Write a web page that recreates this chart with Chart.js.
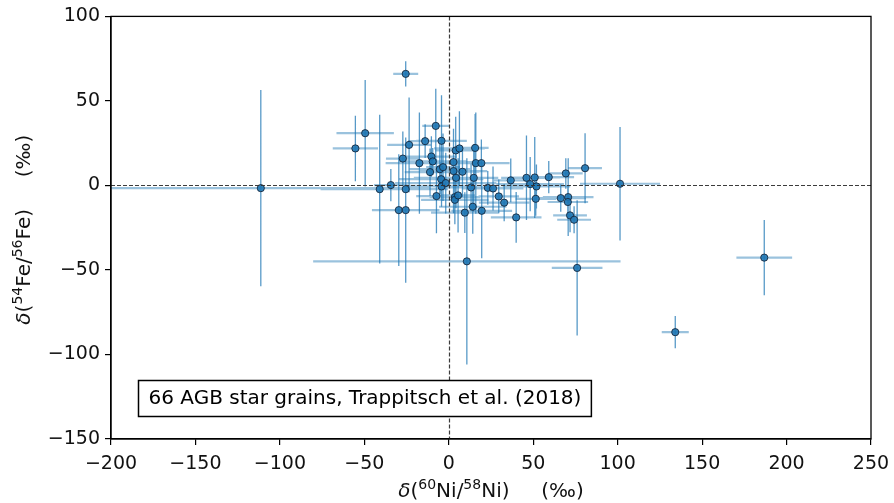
<!DOCTYPE html>
<html>
<head>
<meta charset="utf-8">
<script src="https://cdn.jsdelivr.net/npm/chart.js@4.4.1/dist/chart.umd.min.js"></script>
<style>
  html, body { margin: 0; padding: 0; background: #fff; }
  #plot { display: block; }
</style>
</head>
<body>
<canvas id="plot" width="894" height="503"></canvas>
<script>
// delta 60Ni/58Ni and delta 54Fe/56Fe (permil) for the grains
const nickel = [
  -25.5, -111.3, -49.5, -55.3, -40.9, -34.3, -27.2, -25.5, -29.6, -25.5,
  -23.5, -17.4, -14.0, -7.7, -10.3, -9.5, -11.1, -4.3, -5.3, -3.4,
  -4.5, -4.3, -1.8, -7.3, 2.8, 2.8, 4.1, 6.3, 4.3, 8.1,
  3.6, 3.6, 5.5, 9.5, 10.7, 14.2, 14.8, 13.2, 15.6, 16.0,
  19.3, 19.5, 23.1, 26.2, 29.6, 32.8, 36.7, 39.9, 46.0, 48.2,
  50.9, 51.9, 51.5, 59.2, 66.3, 69.3, 70.7, 70.5, 71.8, 74.2,
  76.0, 80.7, 101.4, 134.1, 186.8
];
const iron = [
  66.0, -1.6, 30.9, 21.9, -2.2, 0.2, 15.9, -2.2, -14.6, -14.6,
  24.0, 13.2, 26.2, 35.2, 17.1, 14.2, 7.9, 26.4, 9.6, 10.8,
  3.7, -0.6, 1.4, -6.3, 13.8, 8.5, 20.7, 21.9, 4.5, 8.1,
  -6.9, -8.5, -5.9, -16.1, -44.9, -12.6, 4.5, -1.2, 22.2, 13.2,
  13.2, -15.0, -1.4, -1.8, -6.5, -10.2, 3.0, -18.9, 4.5, 0.8,
  4.7, -0.6, -7.9, 4.9, -7.5, 7.1, -6.9, -9.8, -17.7, -20.3,
  -48.8, 10.2, 1.0, -86.8, -42.7
];
const nickelErr = [
  7.4, 100, 17, 13.4, 35, 10, 10, 25, 12, 20,
  13, 20, 10, 8, 15, 20, 15, 15, 18, 10,
  25, 20, 30, 12, 15, 20, 12, 15, 25, 10,
  15, 20, 10, 20, 91, 20, 12, 15, 8, 20,
  12, 18, 15, 18, 12, 15, 10, 15, 15, 20,
  15, 20, 12, 15, 15, 10, 15, 12, 10, 10,
  15, 10, 23.7, 8, 16.5
];
const ironErr = [
  7.4, 58, 31.5, 19.4, 44, 9.5, 16, 20, 33, 43,
  28, 30, 10, 22, 12, 8, 14, 27, 15, 20,
  10, 12, 18, 22, 16, 25, 20, 22, 18, 15,
  16, 14, 22, 12, 61, 16, 20, 14, 20, 30,
  14, 28, 10, 13, 10, 11, 13, 15, 25, 16,
  24, 13, 10, 9.5, 8, 9, 23, 10, 10, 8,
  40, 20.7, 33.5, 9.5, 22.3
];
const xTicks = [-200, -150, -100, -50, 0, 50, 100, 150, 200, 250];
const yTicks = [-150, -100, -50, 0, 50, 100];
const caption = '66 AGB star grains, Trappitsch et al. (2018)';
const xTitle = [['δ', 'i'], ['(', ''], ['60', 's'], ['Ni/', ''], ['58', 's'], ['Ni)     (‰)', '']];
const yTitle = [['δ', 'i'], ['(', ''], ['54', 's'], ['Fe/', ''], ['56', 's'], ['Fe)     (‰)', '']];

(function () {
  const FONT = '"DejaVu Sans", sans-serif';
  const BLUE = '31, 119, 180';

  const minusLabel = function (value) {
    return value < 0 ? '\u2212' + Math.abs(value) : String(value);
  };

  const segments = function (horizontal) {
    const out = [];
    nickel.forEach(function (x, i) {
      const y = iron[i];
      if (horizontal) {
        out.push({ x: x - nickelErr[i], y: y }, { x: x + nickelErr[i], y: y });
      } else {
        out.push({ x: x, y: y - ironErr[i] }, { x: x, y: y + ironErr[i] });
      }
      out.push({ x: x, y: null });
    });
    return out;
  };

  // draws a label made of runs: normal, italic, superscript
  const drawRuns = function (ctx, runs, size) {
    const fontFor = function (kind) {
      if (kind === 'i') return 'italic ' + size + 'px ' + FONT;
      if (kind === 's') return Math.round(size * 0.7) + 'px ' + FONT;
      return size + 'px ' + FONT;
    };
    let total = 0;
    runs.forEach(function (run) {
      ctx.font = fontFor(run[1]);
      total += ctx.measureText(run[0]).width;
    });
    let x = -total / 2;
    ctx.textBaseline = 'middle';
    ctx.textAlign = 'left';
    runs.forEach(function (run) {
      ctx.font = fontFor(run[1]);
      ctx.fillText(run[0], x, run[1] === 's' ? -size * 0.32 : 0);
      x += ctx.measureText(run[0]).width;
    });
  };

  const decorations = {
    id: 'decorations',
    afterDatasetsDraw: function (chart) {
      const ctx = chart.ctx;
      const area = chart.chartArea;
      const sx = chart.scales.x;
      const sy = chart.scales.y;
      const x0 = Math.round(sx.getPixelForValue(0)) + 0.5;
      const y0 = Math.round(sy.getPixelForValue(0)) + 0.5;
      ctx.save();
      ctx.strokeStyle = 'rgba(50, 50, 50, 0.95)';
      ctx.lineWidth = 1.2;
      ctx.setLineDash([4, 2]);
      ctx.beginPath();
      ctx.moveTo(x0, area.top);
      ctx.lineTo(x0, area.bottom);
      ctx.moveTo(area.left, y0);
      ctx.lineTo(area.right, y0);
      ctx.stroke();
      ctx.restore();
    },
    afterDraw: function (chart) {
      const ctx = chart.ctx;
      const area = chart.chartArea;
      ctx.save();
      ctx.strokeStyle = '#000';
      ctx.lineWidth = 1.3;
      ctx.strokeRect(area.left, area.top, area.right - area.left, area.bottom - area.top);

      // caption box in the lower left
      ctx.font = '20px ' + FONT;
      const w = ctx.measureText(caption).width + 20;
      const bx = area.left + 27.5;
      const by = area.bottom - 58.5;
      ctx.fillStyle = '#fff';
      ctx.fillRect(bx, by, w, 36);
      ctx.lineWidth = 1.5;
      ctx.strokeRect(bx, by, w, 36);
      ctx.fillStyle = '#000';
      ctx.textBaseline = 'middle';
      ctx.fillText(caption, bx + 10, by + 18.5);

      // axis titles
      ctx.fillStyle = '#111';
      ctx.save();
      ctx.translate((area.left + area.right) / 2, 492);
      drawRuns(ctx, xTitle, 20);
      ctx.restore();
      ctx.save();
      ctx.translate(25, (area.top + area.bottom) / 2 + 2);
      ctx.rotate(-Math.PI / 2);
      drawRuns(ctx, yTitle, 20);
      ctx.restore();
      ctx.restore();
    }
  };

  const axis = function (min, max, ticks, isY) {
    return {
      type: 'linear',
      min: min,
      max: max,
      afterBuildTicks: function (scale) {
        scale.ticks = ticks.map(function (v) { return { value: v }; });
      },
      afterFit: function (scale) {
        if (isY) {
          scale.width = 111;
        } else {
          scale.height = 64;
          scale.paddingLeft = 0;
          scale.paddingRight = 0;
        }
      },
      grid: { drawOnChartArea: false, drawTicks: true, tickLength: 6, color: '#000', lineWidth: 1.2 },
      border: { display: true, color: '#000', width: 1.3 },
      ticks: {
        autoSkip: false,
        maxRotation: 0,
        padding: isY ? 5 : 8,
        color: '#111',
        font: { family: FONT, size: 19 },
        callback: minusLabel
      }
    };
  };

  const init = function () {
    new Chart(document.getElementById('plot'), {
      type: 'scatter',
      data: {
        datasets: [{
          label: 'grains',
          data: nickel.map(function (x, i) { return { x: x, y: iron[i] }; }),
          backgroundColor: 'rgba(' + BLUE + ', 0.9)',
          borderColor: 'rgba(20, 35, 55, 0.85)',
          borderWidth: 1,
          pointRadius: 3.6,
          order: 0
        }, {
          label: 'x error',
          type: 'line',
          data: segments(true),
          showLine: true,
          spanGaps: false,
          borderColor: 'rgba(' + BLUE + ', 0.45)',
          borderWidth: 2.2,
          pointRadius: 0,
          order: 2
        }, {
          label: 'y error',
          type: 'line',
          data: segments(false),
          showLine: true,
          spanGaps: false,
          borderColor: 'rgba(' + BLUE + ', 0.75)',
          borderWidth: 1.3,
          pointRadius: 0,
          order: 1
        }]
      },
      options: {
        responsive: false,
        animation: false,
        devicePixelRatio: 1,
        events: [],
        layout: { padding: { left: 0, top: 16, right: 23, bottom: 0 } },
        plugins: {
          legend: { display: false },
          tooltip: { enabled: false }
        },
        scales: {
          x: axis(-200, 250, xTicks, false),
          y: axis(-150, 100, yTicks, true)
        }
      },
      plugins: [decorations]
    });
  };

  init();
})();
</script>
</body>
</html>
